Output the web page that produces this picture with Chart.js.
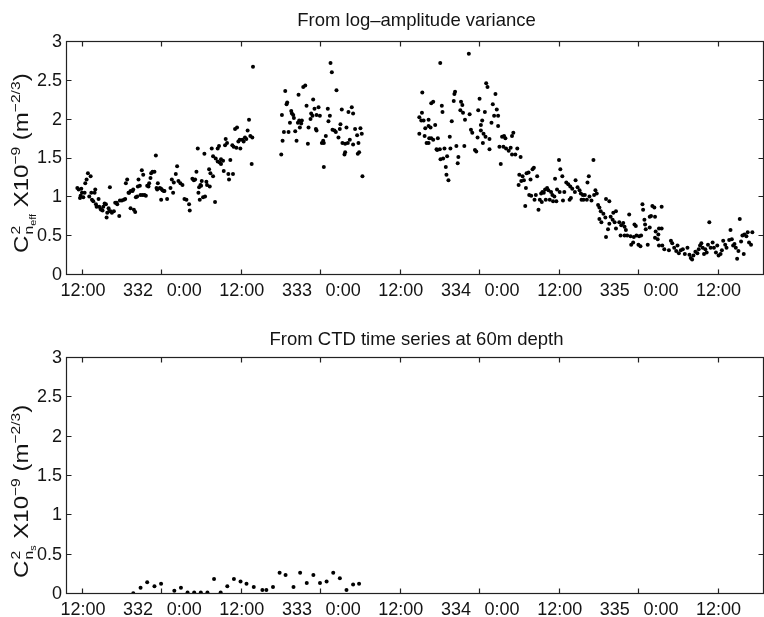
<!DOCTYPE html>
<html><head><meta charset="utf-8">
<script src="https://cdn.jsdelivr.net/npm/chart.js@4.4.1/dist/chart.umd.min.js"></script>
<style>
html,body{margin:0;padding:0;background:#fff;overflow:hidden;width:764px;height:617px;}
canvas{position:absolute;left:0;}
#c1{top:0}
#c2{top:300px}
</style></head><body>
<canvas id="c1" width="766" height="300"></canvas>
<canvas id="c2" width="766" height="317"></canvas>
<script>
// hours since day 331, 0:00
const xTickHours = [12, 24, 36, 48, 60, 72, 84, 96, 108];
const xTickLabels = ["12:00", "332  \u20090:00", "12:00", "333  \u20090:00", "12:00", "334  \u20090:00", "12:00", "335  \u20090:00", "12:00"];
const yTickValues = [0, 0.5, 1, 1.5, 2, 2.5, 3];
const X_MIN = 9.59, X_MAX = 114.86;

const titleTop = "From log–amplitude variance";
const titleBottom = "From CTD time series at 60m depth";

// [hour, value] pairs, top panel (C2n_eff x1e-9)
const riseDay331_332 = [
[11.15,1.12],[11.35,1.10],[11.55,0.99],[11.65,1.02],[11.75,1.11],[11.85,1.06],[12.05,1.00],[12.25,1.06],[12.35,1.18],[12.55,1.23],
[12.75,1.31],[12.95,1.01],[13.16,1.27],[13.26,1.06],[13.36,0.97],[13.56,0.95],[13.76,1.06],[13.86,1.10],[13.96,0.91],[14.06,0.88],
[14.36,0.98],[14.46,0.88],[14.66,0.85],[14.76,0.84],[14.96,0.83],[15.07,0.88],[15.27,0.92],[15.47,0.91],[15.57,0.74],[15.67,0.80],
[15.87,0.86],[15.97,0.82],[16.07,1.13],[16.17,0.82],[16.37,0.80],[16.67,0.82],[16.87,0.93],[17.08,0.93],[17.18,0.91],[17.48,0.76],
[17.58,0.96],[17.88,0.96],[18.18,0.97],[18.38,0.98],[18.48,1.18],[18.68,1.23],[18.88,1.06],[18.98,1.06],[19.19,1.08],[19.19,0.86],
[19.49,1.08],[19.59,1.10],[19.69,0.84],[19.89,0.81],[19.99,1.00],[20.19,1.01],[20.29,1.14],[20.39,1.23],[20.59,1.15],[20.69,1.03],
[20.89,1.35],[21.00,1.03],[21.10,1.29],[21.30,1.03],[21.50,1.02],[21.70,1.15],[21.90,1.14],[22.00,1.18],[22.20,1.25],[22.30,1.31],
[22.50,1.33],[22.80,1.33],[23.01,1.54],[23.11,1.12],[23.21,1.10],[23.31,1.18],[23.61,1.12],[23.81,1.11],[23.81,0.97],[24.01,1.09],
[24.21,1.08],[24.31,1.08],[24.71,0.98],[25.22,1.12],[25.42,1.23],[25.62,1.06],[25.72,1.19],[26.02,1.30],[26.22,1.40],[26.42,1.21],
[26.72,1.18],[27.03,1.16],[27.33,0.98],[27.63,0.97],[28.03,0.91],[28.13,0.83],[28.53,1.24],[28.74,1.22],[28.94,1.23],[29.14,1.33],
[29.34,1.63],[29.44,1.06],[29.54,1.13],[29.64,0.97],[29.74,1.16],[29.84,1.15],[29.94,1.21],[30.14,1.00],[30.34,1.56],[30.44,1.01],
[30.64,1.20],[30.74,1.16],[31.05,1.36],[31.15,1.14],[31.25,1.31],[31.45,1.63],[31.65,1.53],[31.65,1.27],[31.95,0.94],[32.05,1.50],
[32.35,1.63],[32.35,1.46],[32.55,1.66],[32.65,1.45],[32.85,1.49],[32.85,1.43],[33.16,1.47],[33.26,1.34],[33.46,1.67],[33.56,1.75],
[33.76,1.70],[33.96,1.30],[34.06,1.23],[34.26,1.48],[34.56,1.67],[34.66,1.30],[34.76,1.65],[34.97,1.88],[35.17,1.64],[35.27,1.90],
[35.47,1.72],[35.67,1.74],[35.77,1.63],[36.07,1.74],[36.27,1.72],[36.47,1.77],[36.67,1.75],[36.87,1.86],[37.08,2.00],[37.28,1.79],
[37.48,1.43],[37.58,1.77],[37.68,2.68]
];
const clusterDay333 = [
[41.95,1.55],[42.05,2.06],[42.15,1.73],[42.35,1.84],[42.55,2.37],[42.75,2.20],[42.85,2.22],[43.05,1.84],[43.26,1.96],[43.46,2.11],
[43.56,2.08],[43.76,2.06],[43.86,2.02],[44.06,1.85],[44.26,1.73],[44.46,1.96],[44.56,2.32],[44.66,1.99],[44.76,1.90],[44.96,1.95],
[45.06,1.99],[45.27,2.42],[45.57,2.44],[45.77,2.18],[45.97,1.69],[46.07,1.90],[46.37,2.01],[46.47,2.08],[46.67,2.05],[46.77,2.26],
[46.97,2.14],[47.18,1.88],[47.28,2.06],[47.28,1.86],[47.58,2.16],[47.78,2.05],[48.08,1.70],[48.28,1.73],[48.38,1.70],[48.38,1.39],
[48.68,1.79],[48.98,2.14],[49.08,1.98],[49.29,2.05],[49.39,2.73],[49.59,2.61],[49.69,1.87],[49.99,1.86],[50.19,1.84],[50.29,2.38],
[50.59,1.77],[50.79,1.88],[50.89,1.94],[51.09,2.13],[51.19,1.70],[51.50,1.55],[51.60,1.58],[51.60,1.69],[51.80,1.90],[52.00,1.70],
[52.10,2.10],[52.30,1.74],[52.60,2.16],[52.80,2.08],[52.80,1.68],[53.10,1.88],[53.41,1.80],[53.51,1.56],[53.61,1.70],[53.71,1.58],
[53.91,1.89],[54.11,1.82],[54.21,1.27]
];
const clusterDay334 = [
[62.8,2.03],[62.8,1.82],[63.1,1.99],[63.2,2.09],[63.25,2.35],[63.45,1.99],[63.6,1.79],[63.7,1.89],[63.9,1.70],[64.2,2.00],
[64.2,1.92],[64.3,1.76],[64.2,1.70],[64.5,1.90],[64.6,2.21],[64.6,1.76],[64.9,2.23],[64.9,1.74],[65.2,1.93],[65.4,1.62],
[65.5,1.61],[65.6,1.76],[65.9,1.62],[65.96,2.73],[66.0,1.49],[66.2,2.18],[66.3,2.10],[66.4,1.50],[66.6,1.63],[66.8,1.39],
[66.9,1.29],[67.0,1.53],[67.2,1.22],[67.4,1.78],[67.5,1.63],[67.7,1.98],[68.0,2.24],[68.1,2.33],[68.2,2.36],[68.4,1.66],
[68.6,1.44],[68.7,1.52],[69.0,2.12],[69.1,2.23],[69.3,2.19],[69.4,2.09],[69.6,1.66],[69.7,2.00],[70.28,2.85],[70.4,2.07],
[70.6,1.87],[70.8,1.83],[71.2,1.61],[71.4,1.59],[71.6,1.77],[71.7,2.12],[71.9,2.27],[72.1,1.93],[72.1,1.86],[72.3,1.99],
[72.4,1.70],[72.5,1.82],[72.7,2.10],[72.8,1.78],[72.9,2.47],[73.1,2.42],[73.4,1.75],[73.4,1.62],[73.7,1.96],[73.9,2.20],
[74.1,2.05],[74.3,2.33],[74.5,2.13],[74.7,2.05],[74.7,1.92],[74.9,1.65],[75.1,1.43],[75.3,1.78],[75.5,1.65],[75.6,1.79],
[75.8,1.76],[75.9,1.63],[76.3,1.60]
];
const declineDay334_335 = [
[76.6,1.64],[76.8,1.79],[76.8,1.55],[77.0,1.83],[77.3,1.55],[77.6,1.63],[77.8,1.16],[77.9,1.29],[78.1,1.52],[78.2,1.21],
[78.4,1.27],[78.6,1.22],[78.8,0.89],[78.9,1.12],[79.0,1.31],[79.3,1.32],[79.4,1.03],[79.6,1.23],[79.7,1.02],[79.9,1.36],
[80.1,1.38],[80.2,0.97],[80.4,1.03],[80.6,1.27],[80.8,0.84],[81.0,0.97],[81.2,1.05],[81.3,0.94],[81.4,1.07],[81.6,1.06],
[81.8,1.10],[81.9,0.97],[82.1,1.12],[82.3,1.09],[82.5,0.97],[82.7,1.07],[82.9,1.03],[83.0,0.95],[83.2,1.01],[83.3,1.24],
[83.5,0.95],[83.6,1.10],[83.9,1.48],[84.0,1.07],[84.1,1.36],[84.4,1.27],[84.5,0.96],[84.7,1.07],[85.0,1.19],[85.3,1.17],
[85.5,0.97],[85.6,1.14],[85.7,0.99],[85.9,1.11],[86.3,1.07],[86.4,1.22],[86.7,1.13],[87.0,1.09],[87.2,1.05],[87.3,0.97],
[87.5,1.03],[87.6,0.97],[87.8,1.03],[88.1,0.97],[88.2,1.19],[88.4,1.27],[88.5,1.01],[88.8,0.96],[89.1,1.48],[89.2,1.03],
[89.4,1.09],[89.6,1.05],[89.8,0.90],[90.0,0.87],[90.0,0.72],[90.2,0.82],[90.3,0.68],[90.6,0.79],[90.9,0.74],[91.0,0.98],
[91.0,0.49],[91.3,0.59],[91.5,0.95],[91.5,0.66],[91.7,0.75],[92.0,0.71],[92.1,0.80],[92.3,0.68],[92.5,0.82],[92.5,0.60],
[93.0,0.68],[93.2,0.51],[93.3,0.64],[93.6,0.67],[93.8,0.62],[93.8,0.51],[94.0,0.58],[94.2,0.51],[94.5,0.78],[94.7,0.50],
[94.8,0.39],[95.1,0.42],[95.2,0.49],[95.3,0.65],[95.5,0.63],[95.6,0.51],[95.9,0.39],[96.0,0.50],[96.2,0.37],[96.3,0.51],
[96.5,0.91],[96.6,0.84],[96.8,0.71],[96.9,0.65],[97.0,0.59],[97.3,0.39],[97.6,0.75],[97.6,0.61],[97.8,0.76],[98.0,0.89],
[98.3,0.87],[98.4,0.75],[98.4,0.48],[98.5,0.56],[98.8,0.46],[98.9,0.52],[99.0,0.60],[99.0,0.38],[99.4,0.88],[99.4,0.60],
[99.5,0.38],[99.8,0.33],[100.5,0.32],[100.8,0.44],[101.0,0.41],[101.3,0.35],[101.6,0.31],[101.8,0.38],[102.0,0.28],[102.3,0.32],
[102.6,0.33],[102.9,0.27],[103.3,0.35],[103.6,0.26],[103.8,0.22],[104.0,0.20],[104.2,0.25],[104.5,0.30],[104.8,0.28],[105.0,0.33],
[105.2,0.38],[105.4,0.41],[105.6,0.35],[105.8,0.27],[106.0,0.33],[106.2,0.29],[106.4,0.39],[106.6,0.68],[106.8,0.35],[107.1,0.42],
[107.3,0.35],[107.6,0.29],[107.8,0.38],[108.0,0.25],[108.3,0.27],[108.5,0.32],[108.7,0.44],[109.0,0.39],[109.2,0.35],[109.6,0.45],
[109.8,0.58],[110.0,0.46],[110.2,0.38],[110.4,0.40],[110.6,0.35],[110.8,0.21],[111.0,0.31],[111.2,0.72],[111.4,0.43],[111.6,0.51],
[111.8,0.27],[111.9,0.52],[112.2,0.50],[112.4,0.55],[112.6,0.42],[112.9,0.39],[113.1,0.55]
];

// bottom panel (C2n_s x1e-9), hourly CTD values
const ctdHours = [19.6,20.7,21.7,22.8,23.8,25.8,26.8,27.8,28.8,29.8,30.8,31.8,32.8,33.8,34.8,35.8,36.7,37.8,39.1,39.7,40.7,41.7,42.6,43.8,44.8,45.8,46.8,47.8,48.8,49.8,50.8,51.8,52.8,53.7];
const ctdValues = [0.01,0.08,0.15,0.10,0.13,0.04,0.08,0.02,0.02,0.02,0.02,0.19,0.02,0.10,0.19,0.16,0.13,0.09,0.05,0.05,0.09,0.27,0.24,0.09,0.27,0.14,0.24,0.14,0.16,0.27,0.20,0.05,0.12,0.13];

const FONT = "'Liberation Sans', Arial, Helvetica, sans-serif";
const INK = '#141414';

function drawYLabel(ctx, x, y, subText, stretch) {
  ctx.save();
  ctx.translate(x, y);
  ctx.rotate(-Math.PI / 2);
  ctx.scale(stretch, 1);
  ctx.fillStyle = INK;
  ctx.textBaseline = 'alphabetic';
  ctx.textAlign = 'left';
  const main = '20px ' + FONT, sup = '13px ' + FONT, tiny = '9px ' + FONT;
  let cx = 0;
  const put = (t, f, dy) => { ctx.font = f; ctx.fillText(t, cx, dy); cx += ctx.measureText(t).width; };
  put('C', main, 0);
  const c0 = cx;
  ctx.font = sup;
  ctx.fillText('2', c0 + 1, -8);
  const w2 = ctx.measureText('2').width;
  ctx.fillText('n', c0 + 1, 5);
  const wn = ctx.measureText('n').width;
  ctx.font = tiny;
  ctx.fillText(subText, c0 + 1 + wn, 8);
  const ws = ctx.measureText(subText).width;
  cx = c0 + 1 + Math.max(w2, wn + ws);
  put(' X10', main, 0);
  put('\u22129', sup, -8);
  put(' (m', main, 0);
  put('\u22122/3', sup, -8);
  put(')', main, 0);
  ctx.restore();
}

const framePlugin = {
  id: 'frame',
  afterDraw(chart, args, o) {
    const ctx = chart.ctx;
    const { left, right, top, bottom } = chart.chartArea;
    const xs = chart.scales.x, ys = chart.scales.y;
    ctx.save();
    ctx.strokeStyle = '#222';
    ctx.lineWidth = 1.2;
    const L = Math.round(left) - 0.5, R = Math.round(right) - 0.5, T = Math.round(top) - 0.5, B = Math.round(bottom) - 0.5;
    ctx.strokeRect(L, T, R - L, B - T);
    ctx.beginPath();
    xTickHours.forEach(h => {
      const px = Math.round(xs.getPixelForValue(h)) - 0.5;
      ctx.moveTo(px, B); ctx.lineTo(px, B - 5);
      ctx.moveTo(px, T); ctx.lineTo(px, T + 5);
    });
    yTickValues.forEach(v => {
      const py = Math.round(ys.getPixelForValue(v)) - 0.5;
      ctx.moveTo(L, py); ctx.lineTo(L + 5, py);
      ctx.moveTo(R, py); ctx.lineTo(R - 5, py);
    });
    ctx.stroke();
    // title
    ctx.fillStyle = INK;
    ctx.font = '18.5px ' + FONT;
    ctx.textAlign = 'center';
    ctx.textBaseline = 'alphabetic';
    ctx.fillText(o.title, (left + right) / 2 + 1, o.titleY);
    ctx.restore();
    drawYLabel(ctx, 27.5, o.labelY, o.sub, 1.2);
  }
};

function makeChart(id, datasets, cfg) {
  return new Chart(document.getElementById(id), {
    type: 'scatter',
    data: { datasets },
    options: {
      responsive: false, animation: false, devicePixelRatio: 1,
      layout: { padding: { top: cfg.padTop, left: 0, right: 1, bottom: 0 } },
      plugins: {
        legend: { display: false }, tooltip: { enabled: false },
        frame: { title: cfg.title, titleY: cfg.titleY, sub: cfg.sub, labelY: cfg.labelY }
      },
      elements: { point: { radius: 2, borderWidth: 0, backgroundColor: '#000', hoverRadius: 2 } },
      scales: {
        x: {
          type: 'linear', min: X_MIN, max: X_MAX,
          grid: { display: false, drawTicks: false }, border: { display: false },
          afterBuildTicks: s => { s.ticks = xTickHours.map(v => ({ value: v })); },
          afterFit: s => { s.height = cfg.xAxisH; },
          ticks: {
            autoSkip: false, maxRotation: 0, minRotation: 0, padding: 5, color: INK,
            font: { family: FONT, size: 18 },
            callback: v => { const i = xTickHours.indexOf(v); return i >= 0 ? xTickLabels[i] : ''; }
          }
        },
        y: {
          min: 0, max: 3,
          grid: { display: false, drawTicks: false }, border: { display: false },
          afterBuildTicks: s => { s.ticks = yTickValues.map(v => ({ value: v })); },
          afterFit: s => { s.width = 67; },
          ticks: { padding: 5, color: INK, font: { family: FONT, size: 18 }, callback: v => String(v) }
        }
      }
    },
    plugins: [framePlugin]
  });
}

const toPts = arr => arr.map(([h, v]) => ({ x: h, y: v }));
const ptStyle = { pointRadius: 2, pointBackgroundColor: '#000', pointBorderWidth: 0, showLine: false };

makeChart('c1', [
  Object.assign({ label: 'day 331-332', data: toPts(riseDay331_332) }, ptStyle),
  Object.assign({ label: 'day 333', data: toPts(clusterDay333) }, ptStyle),
  Object.assign({ label: 'day 334', data: toPts(clusterDay334) }, ptStyle),
  Object.assign({ label: 'day 334-335', data: toPts(declineDay334_335) }, ptStyle)
], { padTop: 42, xAxisH: 25, title: titleTop, titleY: 26, sub: 'eff', labelY: 253 });

makeChart('c2', [
  Object.assign({ label: 'CTD 60m', data: ctdHours.map((h, i) => ({ x: h, y: ctdValues[i] })) }, ptStyle)
], { padTop: 58, xAxisH: 23, title: titleBottom, titleY: 45, sub: 's', labelY: 278 });
</script>
</body></html>
